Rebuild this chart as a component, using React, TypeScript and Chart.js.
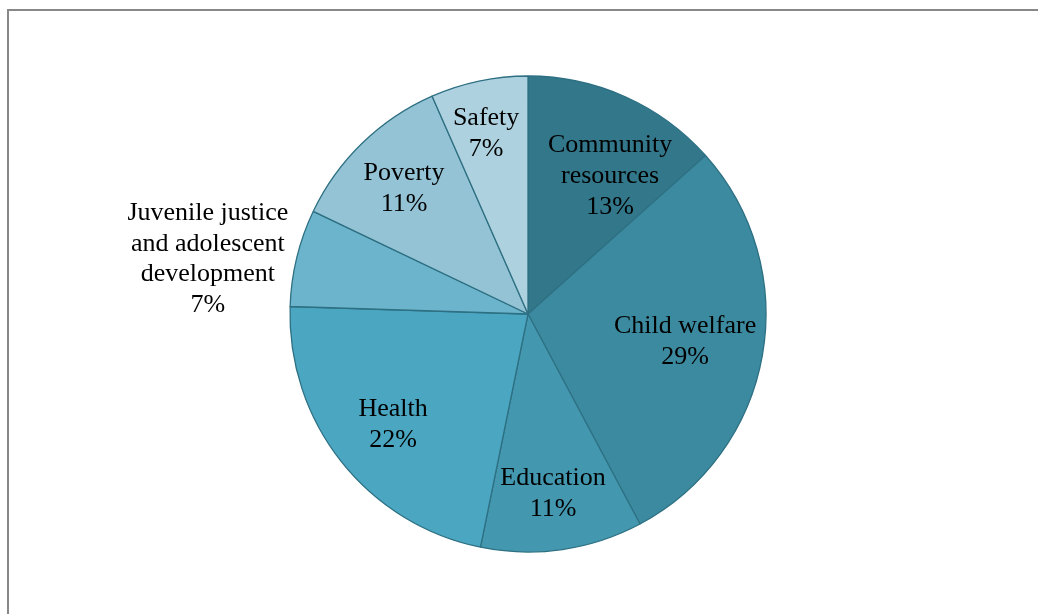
import React, { useEffect, useRef } from "react";
import { Chart, registerables } from "chart.js";

Chart.register(...registerables);

const categories: string[][] = [
  ["Community", "resources"],
  ["Child welfare"],
  ["Education"],
  ["Health"],
  ["Juvenile justice", "and adolescent", "development"],
  ["Poverty"],
  ["Safety"],
];
const values: number[] = [13.4, 28.8, 11.0, 22.3, 6.6, 11.3, 6.6];
const percentLabels: string[] = ["13%", "29%", "11%", "22%", "7%", "11%", "7%"];
const colors: string[] = ["#33778A", "#3C8A9F", "#4398B0", "#4AA6C1", "#6BB4CC", "#94C3D5", "#AED1DF"];

// label block centers as fractions of radius from the pie center
const labelOffsets: [number, number][] = [
  [0.345, -0.588],
  [0.66, 0.109],
  [0.105, 0.748],
  [-0.567, 0.458],
  [-1.345, -0.239],
  [-0.521, -0.534],
  [-0.176, -0.765],
];

const FONT_SIZE = 26;
const LINE_H = 30.8;

const labelPlugin = {
  id: "sliceLabels",
  afterDatasetsDraw(chart: any) {
    const meta = chart.getDatasetMeta(0);
    const arc = meta.data[0];
    if (!arc) return;
    const cx = arc.x;
    const cy = arc.y;
    const r = arc.outerRadius;
    const ctx = chart.ctx;
    ctx.save();
    ctx.font = `${FONT_SIZE}px "Liberation Serif", "Times New Roman", serif`;
    ctx.fillStyle = "#000";
    ctx.textAlign = "center";
    ctx.textBaseline = "middle";
    categories.forEach((lines, i) => {
      const all = [...lines, percentLabels[i]];
      const [fx, fy] = labelOffsets[i];
      const x = cx + fx * r;
      const y = cy + fy * r + 2;
      const top = y - ((all.length - 1) * LINE_H) / 2;
      all.forEach((t, j) => ctx.fillText(t, x, top + j * LINE_H));
    });
    ctx.restore();
  },
};

export default function App() {
  const ref = useRef<HTMLCanvasElement>(null);
  useEffect(() => {
    if (!ref.current) return;
    const chart = new Chart(ref.current, {
      type: "pie",
      data: {
        labels: categories.map((c) => c.join(" ")),
        datasets: [
          {
            data: values,
            backgroundColor: colors,
            borderColor: "#2E7083",
            borderWidth: 1.3,
          },
        ],
      },
      options: {
        animation: false,
        responsive: false,
        radius: 238,
        layout: { padding: { left: 18, top: 14, right: 0, bottom: 0 } },
        plugins: { legend: { display: false }, tooltip: { enabled: false } },
      },
      plugins: [labelPlugin],
    });
    return () => chart.destroy();
  }, []);
  return (
    <div style={{ position: "fixed", left: 0, top: 0, width: 1038, height: 614, background: "#fff" }}>
      <div
        style={{
          position: "absolute",
          left: 7,
          top: 9,
          right: 0,
          bottom: 0,
          borderLeft: "2px solid #888",
          borderTop: "2px solid #888",
        }}
      />
      <canvas ref={ref} width={1038} height={614} style={{ position: "absolute", left: 0, top: 0 }} />
    </div>
  );
}
